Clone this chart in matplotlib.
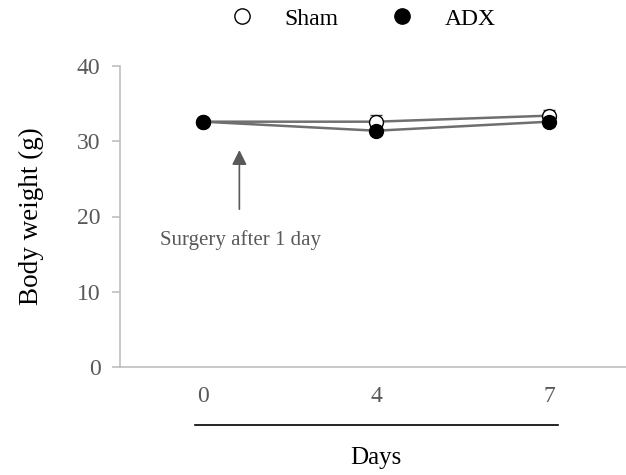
import matplotlib.pyplot as plt
from matplotlib.lines import Line2D

plt.rcParams['font.family'] = ['Liberation Serif', 'DejaVu Serif']

# data
days = ['0', '4', '7']
sham = [32.6, 32.6, 33.4]
sham_err = [0.3, 0.9, 0.8]
adx = [32.6, 31.4, 32.6]
adx_err = [0.3, 0.4, 0.6]

fig = plt.figure(figsize=(6.26, 4.75), dpi=100)
ax = fig.add_axes([120 / 626, 108 / 475, 506 / 626, 301 / 475])

x = list(range(len(days)))
ax.errorbar(x, sham, yerr=sham_err, color='#6f6f6f', lw=1.8, marker='o', ms=10,
            mfc='white', mec='black', mew=1, ecolor='#404040', elinewidth=1,
            capsize=4, zorder=3)
ax.errorbar(x, adx, yerr=adx_err, color='#6f6f6f', lw=1.8, marker='o', ms=10,
            mfc='black', mec='black', ecolor='#404040', elinewidth=1,
            capsize=4, zorder=4)

ax.set_xlim(-0.48, -0.48 + 506 / 173)
ax.set_ylim(0, 40)
ax.set_yticks([0, 10, 20, 30, 40])
ax.set_xticks(x)
ax.set_xticklabels(days)

for s in ['top', 'right']:
    ax.spines[s].set_visible(False)
for s in ['left', 'bottom']:
    ax.spines[s].set_color('#bfbfbf')
    ax.spines[s].set_linewidth(1.2)
ax.tick_params(axis='y', colors='#bfbfbf', labelcolor='#595959', labelsize=17,
               length=6, width=1.2, pad=8)
ax.tick_params(axis='x', length=0, labelcolor='#595959', labelsize=17, pad=14)

ax.set_ylabel('Body weight (g)', fontsize=19.5, labelpad=24)

# arrow for surgery
ax.annotate('', xy=(0.21, 29.2), xytext=(0.21, 20.6),
            arrowprops=dict(arrowstyle='-|>', color='#595959', lw=1.2,
                            mutation_scale=22))
ax.text(0.215, 18.2, 'Surgery after 1 day', ha='center', va='top',
        fontsize=15, color='#595959')

# line above Days
fig.add_artist(Line2D([195 / 626, 558 / 626], [50 / 475, 50 / 475],
                      color='black', lw=1.2))
fig.text(376 / 626, 17 / 475, 'Days', ha='center', va='center', fontsize=18)

# legend
h1 = Line2D([], [], marker='o', ls='none', mfc='white', mec='black', ms=11)
h2 = Line2D([], [], marker='o', ls='none', mfc='black', mec='black', ms=11)
fig.legend([h1, h2], ['Sham', 'ADX'], loc='center', bbox_to_anchor=(357 / 626, 1 - 19 / 475),
           ncol=2, frameon=False, fontsize=17, columnspacing=1.7, handletextpad=0.8)

fig.savefig('out.png', dpi=100)
